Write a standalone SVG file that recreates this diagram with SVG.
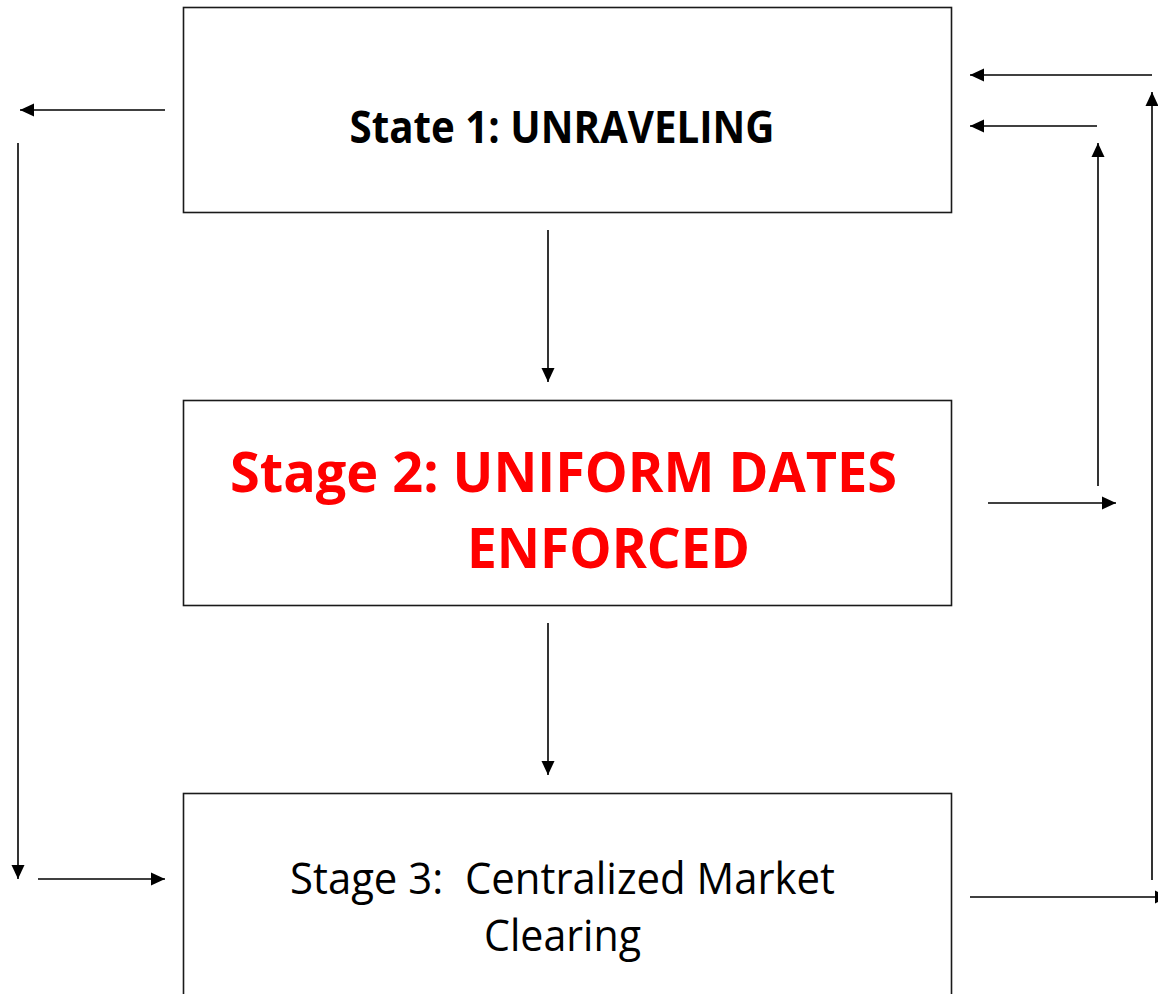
<svg xmlns="http://www.w3.org/2000/svg" width="1158" height="994" viewBox="0 0 1158 994">
  <style>
    .box { fill: #ffffff; stroke: #1a1a1a; stroke-width: 1.6; }
    .conn { stroke: #000000; stroke-width: 1.6; fill: none; marker-end: url(#ah); }
    .t { font-family: "Open Sans", "Liberation Sans", sans-serif; text-anchor: middle; white-space: pre; }
  </style>
  <defs>
    <marker id="ah" markerUnits="userSpaceOnUse" markerWidth="14" markerHeight="14" viewBox="0 0 14 14" refX="14" refY="7" orient="auto">
      <path d="M0,0.5 L14,7 L0,13.5 Z" fill="#000000"/>
    </marker>
  </defs>
  <rect width="1158" height="994" fill="#ffffff"/>
  <g id="node-stage1">
    <rect class="box" x="183.5" y="7.5" width="768" height="205"/>
    <text class="t" x="562" y="143" font-size="44" font-weight="bold" fill="#000000" textLength="425" lengthAdjust="spacingAndGlyphs">State 1: UNRAVELING</text>
  </g>
  <g id="node-stage2">
    <rect class="box" x="183.5" y="400.5" width="768" height="205"/>
    <text class="t" x="563.5" y="492" font-size="56" font-weight="bold" fill="#ff0000" textLength="667" lengthAdjust="spacingAndGlyphs">Stage 2: UNIFORM DATES</text>
    <text class="t" x="608.5" y="568" font-size="56" font-weight="bold" fill="#ff0000" textLength="283" lengthAdjust="spacingAndGlyphs">ENFORCED</text>
  </g>
  <g id="node-stage3">
    <rect class="box" x="183.5" y="793.5" width="768" height="220"/>
    <text class="t" x="562.5" y="894" font-size="43" fill="#000000" textLength="545" lengthAdjust="spacingAndGlyphs" xml:space="preserve">Stage 3:  Centralized Market</text>
    <text class="t" x="562.5" y="951" font-size="43" fill="#000000" textLength="157" lengthAdjust="spacingAndGlyphs">Clearing</text>
  </g>
  <g id="connectors">
    <line class="conn" x1="165" y1="110" x2="20" y2="110"/>
    <line class="conn" x1="18" y1="143" x2="18" y2="879"/>
    <line class="conn" x1="38" y1="879" x2="165" y2="879"/>
    <line class="conn" x1="548" y1="230" x2="548" y2="382"/>
    <line class="conn" x1="548" y1="623" x2="548" y2="775"/>
    <line class="conn" x1="1152" y1="75" x2="970" y2="75"/>
    <line class="conn" x1="1097" y1="126" x2="970" y2="126"/>
    <line class="conn" x1="1152" y1="880" x2="1152" y2="92"/>
    <line class="conn" x1="1098" y1="486" x2="1098" y2="143"/>
    <line class="conn" x1="988" y1="503" x2="1116" y2="503"/>
    <line class="conn" x1="970" y1="897" x2="1169" y2="897"/>
  </g>
</svg>
